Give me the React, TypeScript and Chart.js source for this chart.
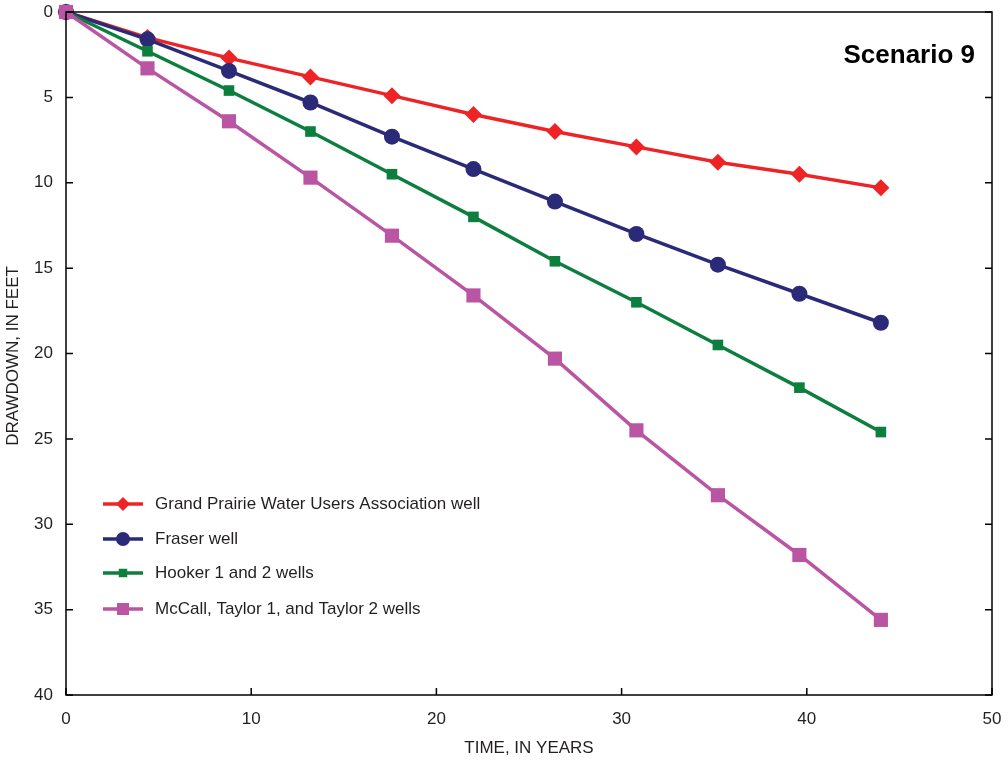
import React, { useEffect, useRef } from "react";
import { Chart, registerables } from "chart.js";

Chart.register(...registerables);

const years = [0, 4.4, 8.8, 13.2, 17.6, 22, 26.4, 30.8, 35.2, 39.6, 44];
const grandPrairie = [0, 1.5, 2.7, 3.8, 4.9, 6.0, 7.0, 7.9, 8.8, 9.5, 10.3];
const fraser = [0, 1.6, 3.45, 5.3, 7.3, 9.2, 11.1, 13.0, 14.8, 16.5, 18.2];
const hooker = [0, 2.3, 4.6, 7.0, 9.5, 12.0, 14.6, 17.0, 19.5, 22.0, 24.6];
const mccall = [0, 3.3, 6.4, 9.7, 13.1, 16.6, 20.3, 24.5, 28.3, 31.8, 35.6];

const seriesLabels = [
  "Grand Prairie Water Users Association well",
  "Fraser well",
  "Hooker 1 and 2 wells",
  "McCall, Taylor 1, and Taylor 2 wells",
];
const xTicks = [0, 10, 20, 30, 40, 50];
const yTicks = [0, 5, 10, 15, 20, 25, 30, 35, 40];

const FONT = "'Liberation Sans', Arial, sans-serif";
const TEXT = "#231F20";

const toPoints = (ys: number[]) => years.map((x, i) => ({ x, y: ys[i] }));

function drawMarker(ctx: CanvasRenderingContext2D, style: string, x: number, y: number, r: number) {
  ctx.beginPath();
  if (style === "circle") {
    ctx.arc(x, y, r, 0, Math.PI * 2);
  } else if (style === "rectRot") {
    ctx.moveTo(x, y - r);
    ctx.lineTo(x + r, y);
    ctx.lineTo(x, y + r);
    ctx.lineTo(x - r, y);
    ctx.closePath();
  } else {
    const s = r * Math.SQRT1_2;
    ctx.rect(x - s, y - s, 2 * s, 2 * s);
  }
  ctx.fill();
}

const framePlugin = {
  id: "framePlugin",
  afterDatasetsDraw(chart: any) {
    const { ctx, chartArea, scales } = chart;
    const { left, right, top, bottom } = chartArea;
    ctx.save();
    ctx.strokeStyle = "#000";
    ctx.lineWidth = 1.5;
    ctx.strokeRect(left, top, right - left, bottom - top);
    const tl = 7;
    ctx.beginPath();
    xTicks.forEach((v) => {
      const px = scales.x.getPixelForValue(v);
      ctx.moveTo(px, bottom);
      ctx.lineTo(px, bottom - tl);
    });
    yTicks.forEach((v) => {
      const py = scales.y.getPixelForValue(v);
      ctx.moveTo(left, py);
      ctx.lineTo(left + tl, py);
      ctx.moveTo(right, py);
      ctx.lineTo(right - tl, py);
    });
    ctx.stroke();

    // Title
    ctx.fillStyle = "#000";
    ctx.font = `bold 26px ${FONT}`;
    ctx.textAlign = "right";
    ctx.textBaseline = "middle";
    ctx.fillText("Scenario 9", 975, 56);

    // Axis titles
    ctx.fillStyle = TEXT;
    ctx.font = `17px ${FONT}`;
    ctx.textAlign = "center";
    ctx.fillText("TIME, IN YEARS", 529, 748);
    ctx.save();
    ctx.translate(13, 356);
    ctx.rotate(-Math.PI / 2);
    ctx.fillText("DRAWDOWN, IN FEET", 0, 0);
    ctx.restore();

    // Legend
    const rowsY = [504, 539, 573, 609];
    const radii = [7, 7, 6, 8.5];
    chart.data.datasets.forEach((ds: any, i: number) => {
      const y = rowsY[i];
      ctx.strokeStyle = ds.borderColor;
      ctx.lineWidth = 3.5;
      ctx.beginPath();
      ctx.moveTo(103, y);
      ctx.lineTo(143, y);
      ctx.stroke();
      ctx.fillStyle = ds.backgroundColor;
      drawMarker(ctx, ds.pointStyle, 123, y, radii[i]);
      ctx.fillStyle = TEXT;
      ctx.font = `17px ${FONT}`;
      ctx.textAlign = "left";
      ctx.textBaseline = "middle";
      ctx.fillText(ds.label, 155, y);
    });
    ctx.restore();
  },
};

export default function App() {
  const ref = useRef<HTMLCanvasElement>(null);
  useEffect(() => {
    if (!ref.current) return;
    const mk = (label: string, data: number[], color: string, style: string, radius: number, order: number) => ({
      label,
      data: toPoints(data),
      borderColor: color,
      backgroundColor: color,
      borderWidth: 3.5,
      pointStyle: style,
      pointRadius: radius,
      pointBorderWidth: 0,
      pointBackgroundColor: color,
      tension: 0,
      order,
      clip: false as any,
    });
    const chart = new Chart(ref.current, {
      type: "line",
      data: {
        datasets: [
          mk(seriesLabels[0], grandPrairie, "#EE2326", "rectRot", 8.5, 3),
          mk(seriesLabels[1], fraser, "#2A2A78", "circle", 8, 2),
          mk(seriesLabels[2], hooker, "#0C7E3E", "rect", 7.5, 1),
          mk(seriesLabels[3], mccall, "#B955A2", "rect", 10, 0),
        ],
      },
      options: {
        animation: false,
        responsive: true,
        maintainAspectRatio: false,
        layout: { padding: { left: 0, right: 16, top: 12, bottom: 0 } },
        plugins: { legend: { display: false }, tooltip: { enabled: false } },
        scales: {
          x: {
            type: "linear",
            min: 0,
            max: 50,
            afterFit: (s: any) => {
              s.height = 66;
              s.paddingLeft = 0;
              s.paddingRight = 0;
            },
            afterBuildTicks: (s: any) => {
              s.ticks = xTicks.map((v) => ({ value: v }));
            },
            grid: { display: false, drawTicks: false },
            border: { display: false },
            ticks: { color: TEXT, font: { family: FONT, size: 17 }, padding: 14, maxRotation: 0 },
          },
          y: {
            type: "linear",
            min: 0,
            max: 40,
            reverse: true,
            afterFit: (s: any) => {
              s.width = 66;
              s.paddingTop = 0;
              s.paddingBottom = 0;
            },
            afterBuildTicks: (s: any) => {
              s.ticks = yTicks.map((v) => ({ value: v }));
            },
            grid: { display: false, drawTicks: false },
            border: { display: false },
            ticks: { color: TEXT, font: { family: FONT, size: 17 }, padding: 13 },
          },
        },
      },
      plugins: [framePlugin],
    });
    return () => chart.destroy();
  }, []);
  return (
    <div style={{ position: "fixed", left: 0, top: 0, width: 1008, height: 761, background: "#fff" }}>
      <canvas ref={ref} />
    </div>
  );
}
